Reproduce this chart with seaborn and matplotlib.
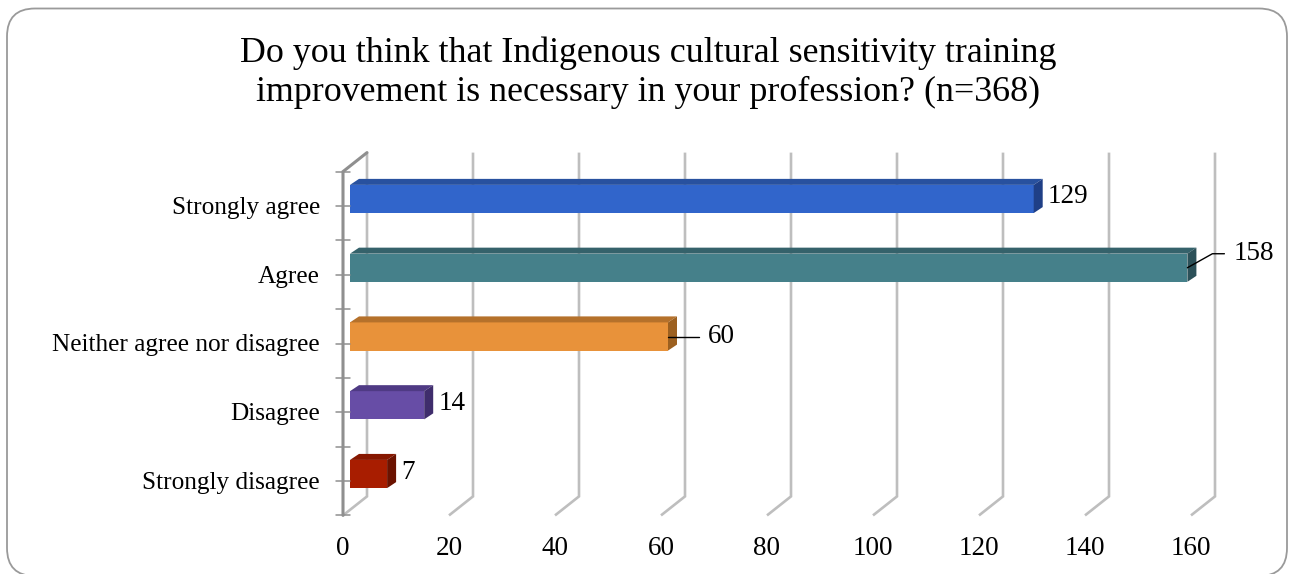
import matplotlib
matplotlib.use("Agg")
import numpy as np
import pandas as pd
import matplotlib.pyplot as plt
import seaborn as sns
from matplotlib.patches import Polygon, FancyBboxPatch
from matplotlib.lines import Line2D
from matplotlib.transforms import IdentityTransform

# ---- data ----
categories = ["Strongly agree", "Agree", "Neither agree nor disagree",
              "Disagree", "Strongly disagree"]
counts = [129, 158, 60, 14, 7]
x_ticks = [0, 20, 40, 60, 80, 100, 120, 140, 160]
title = ("Do you think that Indigenous cultural sensitivity training\n"
         "improvement is necessary in your profession? (n=368)")

# face colours of each 3-D bar: front, top, right side
front_colors = ["#3165CB", "#45808A", "#E8923A", "#674DA6", "#A81D00"]
top_colors = ["#28519F", "#35626B", "#B5712B", "#4F3A84", "#861700"]
side_colors = ["#1F3F86", "#2C5159", "#9C6020", "#3F2D6C", "#6B1200"]

W, H = 1291, 574
sns.set_theme(style="white")
plt.rcParams["font.family"] = ["Liberation Serif", "DejaVu Serif"]

fig = plt.figure(figsize=(W / 100, H / 100), dpi=100)
fig.patch.set_facecolor("white")

# axes spans the plane of the bars' front faces (pixel box)
px_left, px_right = 350, 350 + 5.3 * 160
px_top, px_bot = 164.6, 508.4
ax = fig.add_axes([px_left / W, 1 - px_bot / H,
                   (px_right - px_left) / W, (px_bot - px_top) / H])

df = pd.DataFrame({"response": categories, "count": counts})
sns.barplot(data=df, y="response", x="count", hue="response",
            palette=front_colors, width=0.41, orient="h", ax=ax,
            legend=False, saturation=1, edgecolor="none", zorder=3)
ax.set_xlim(0, 160)
ax.set_ylim(len(categories) - 0.5, -0.5)
ax.axis("off")

# pixel shifts of the front wall, the back wall and the bar depth
FRONT = np.array([-7.0, -7.0])
BACK = np.array([17.0, 12.0])
DEPTH = np.array([9.0, 6.0])

ident = IdentityTransform()


def disp(v, c):
    return ax.transData.transform((v, c))


def add_line(pts, **kw):
    pts = np.asarray(pts)
    ln = Line2D(pts[:, 0], pts[:, 1], transform=ident, clip_on=False, **kw)
    ax.add_artist(ln)


def add_text(x, y, s, **kw):
    ax.text(x, y, s, transform=ident, clip_on=False, color="black", **kw)


c_top, c_bot = -0.5, len(categories) - 0.5
grid_col = "#BEBEBE"
axis_col = "#8F8F8F"

# back-wall gridlines with their floor returns
for v in x_ticks:
    add_line([disp(v, c_top) + BACK, disp(v, c_bot) + BACK,
              disp(v, c_bot) + FRONT],
             color=grid_col, lw=1.9, zorder=1,
             solid_capstyle="butt", solid_joinstyle="miter")

# left wall edge (front) and its top return
add_line([disp(0, c_top) + BACK, disp(0, c_top) + FRONT,
          disp(0, c_bot) + FRONT],
         color=axis_col, lw=2.2, zorder=4, solid_joinstyle="miter")

# category tick marks on the left edge
for c in np.arange(c_top, c_bot + 0.01, 0.5):
    p = disp(0, c) + FRONT
    add_line([[p[0] - 7, p[1]], [p[0] + 7, p[1]]],
             color=axis_col, lw=1.1, zorder=4)

# top and side faces of every bar
for i, bar in enumerate(ax.patches):
    x0, y0 = bar.get_x(), bar.get_y()
    x1, y1 = x0 + bar.get_width(), y0 + bar.get_height()
    lt, rt = disp(x0, y0), disp(x1, y0)
    rb = disp(x1, y1)
    ax.add_artist(Polygon([lt, rt, rt + DEPTH, lt + DEPTH], closed=True,
                          transform=ident, facecolor=top_colors[i],
                          edgecolor="none", zorder=3, clip_on=False))
    ax.add_artist(Polygon([rt, rb, rb + DEPTH, rt + DEPTH], closed=True,
                          transform=ident, facecolor=side_colors[i],
                          edgecolor="none", zorder=3, clip_on=False))

# value labels (two of them use leader lines)
num_fs = 19.5
cat_fs = 18.2
leaders = {1: (np.array([25.0, 14.0]), 12.0), 2: (np.array([31.0, 0.0]), 0.0)}
for i, val in enumerate(counts):
    anchor = disp(val, i)
    if i in leaders:
        kink, run = leaders[i]
        p1 = anchor + kink
        p2 = p1 + np.array([run, 0.0])
        add_line([anchor, p1, p2], color="black", lw=1.0, zorder=5)
        tx, ty = p2[0] + 9, p2[1]
    else:
        tx, ty = anchor[0] + DEPTH[0] + 5, anchor[1] + 2
    add_text(tx, ty, str(val), ha="left", va="center", fontsize=num_fs,
             zorder=6)

# category labels along the left wall
for i, name in enumerate(categories):
    p = disp(0, i) + FRONT
    add_text(p[0] - 23, p[1] - 2, name, ha="right", va="center",
             fontsize=cat_fs)

# value axis labels on the front floor edge
for v in x_ticks:
    p = disp(v, c_bot) + FRONT
    add_text(p[0], p[1] - 33, str(v), ha="center", va="center",
             fontsize=num_fs)

# chart title
add_text(648, H - 73, title, ha="center", va="center",
         fontsize=25.8, linespacing=1.25)

# rounded chart frame
frame = FancyBboxPatch((7, -2), 1280, H - 8 + 2 - 0.5,
                       boxstyle="round,pad=0,rounding_size=28",
                       transform=ident, facecolor="none",
                       edgecolor="#9A9A9A", lw=1.3, zorder=0)
fig.add_artist(frame)

fig.savefig("out.png", dpi=100)
